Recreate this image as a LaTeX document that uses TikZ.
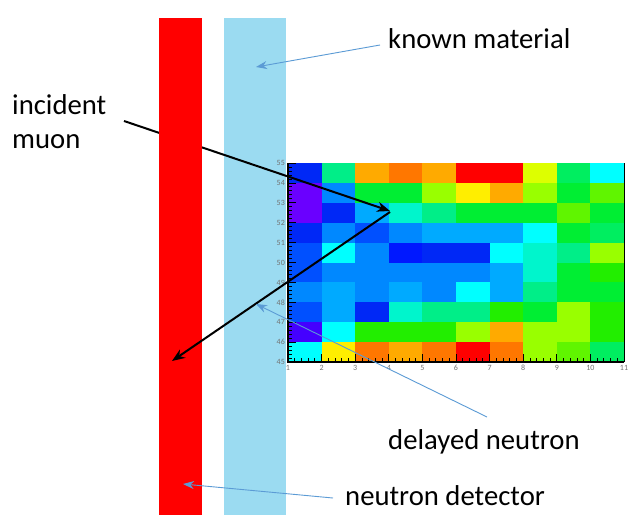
\documentclass[tikz,border=0pt]{standalone}
\usepackage{fontspec}
\setmainfont{Carlito}
\usetikzlibrary{arrows.meta}
\definecolor{barred}{RGB}{255,0,0}
\definecolor{barblue}{RGB}{155,219,241}
\definecolor{ptr}{RGB}{91,155,213}
\definecolor{bl}{HTML}{0028F6}
\definecolor{bl2}{HTML}{0050FF}
\definecolor{bl3}{HTML}{0018FF}
\definecolor{db}{HTML}{0088FF}
\definecolor{sb}{HTML}{00AAFF}
\definecolor{cy}{HTML}{00FFFF}
\definecolor{aq}{HTML}{00F5CC}
\definecolor{sg}{HTML}{00EE88}
\definecolor{gm}{HTML}{00EE60}
\definecolor{gr}{HTML}{00EE33}
\definecolor{gg}{HTML}{22EE00}
\definecolor{ch}{HTML}{60F500}
\definecolor{li}{HTML}{99FF00}
\definecolor{ye}{HTML}{FFEE00}
\definecolor{ylg}{HTML}{DDFF00}
\definecolor{or}{HTML}{FFAA00}
\definecolor{do}{HTML}{FF7700}
\definecolor{rd}{HTML}{FF0000}
\definecolor{pu}{HTML}{6A00FF}
\definecolor{pu2}{HTML}{4400FF}
\tikzset{
  lbl/.style={font=\fontsize{28.7}{34}\selectfont, inner sep=0pt, text=black},
  muonarrow/.style={draw=black, line width=2pt, -{Stealth[length=13pt,width=10pt]}},
  pointer/.style={draw=ptr, line width=0.9pt, -{Stealth[length=11pt,width=8pt]}},
  axlbl/.style={font=\fontsize{8}{9}\selectfont, text=black!55, inner sep=0pt},
  bar/.style={draw=none, inner sep=0pt, minimum width=#1, minimum height=497pt, anchor=north west}
}
\begin{document}
\begin{tikzpicture}[x=1pt,y=-1pt]
\useasboundingbox (0,0) rectangle (639,525);
\fill[white] (0,0) rectangle (639,525);
% light blue bar (known material)
\node[bar=62pt, fill=barblue] (bluebar) at (224,18) {};
% heatmap
\def\xo{288}\def\yo{163}\def\cw{33.6}\def\ch{19.9}
\foreach \row [count=\r from 0] in {
 {bl,sg,or,do,or,rd,rd,ylg,gm,cy},
 {pu,db,gr,gr,li,ye,or,li,gr,ch},
 {pu,bl,sb,aq,sg,gr,gr,gr,ch,gr},
 {bl,db,bl2,db,sb,sb,sb,cy,gr,gm},
 {bl2,cy,db,bl3,bl,bl,cy,aq,sg,li},
 {bl2,db,db,db,db,db,sb,aq,gr,gg},
 {db,sb,db,sb,db,cy,sb,sg,gr,gr},
 {bl2,sb,bl,aq,sg,sg,gg,gr,li,gg},
 {pu2,cy,gg,gg,gg,li,or,li,li,gg},
 {cy,ye,do,or,do,rd,do,li,ch,gm}} {
  \foreach \c [count=\k from 0] in \row {
    \fill[\c] ({\xo+\k*\cw},{\yo+\r*\ch}) rectangle ++(\cw+0.3,\ch+0.3);
  }
}
\coordinate (hmtl) at (\xo,\yo);
\coordinate (hmbl) at (\xo,{\yo+10*\ch});
\coordinate (hmbr) at ({\xo+10*\cw},{\yo+10*\ch});
\coordinate (hmtr) at ({\xo+10*\cw},\yo);
% ticks
\foreach \i in {0,...,50} {
  \pgfmathsetmacro{\len}{ifthenelse(mod(\i,5)==0,8,4)}
  \draw[black, line width=0.8pt] (\xo,{\yo+\i*\ch/5}) -- ++(\len,0);
  \draw[black, line width=0.8pt] ({\xo+\i*\cw/5},{\yo+10*\ch}) -- ++(0,-\len);
}
\draw[black, line width=1.6pt] (hmtl) -- (hmbl) -- (hmbr);
\draw[black, line width=0.8pt] (hmbr) -- (hmtr);
\foreach \v [count=\i from 0] in {55,54,53,52,51,50,49,48,47,46,45} {
  \node[axlbl, anchor=east] (yl\i) at ({\xo-3},{\yo+\i*\ch}) {\v};
}
\foreach \i in {1,...,11} {
  \node[axlbl, anchor=north] (xl\i) at ({\xo+(\i-1)*\cw},{\yo+10*\ch+3}) {\i};
}
% incident muon arrow (passes behind the detector)
\coordinate (muonstart) at (124,121);
\coordinate (hit) at (390,211);
\coordinate (back) at (172,361);
\draw[muonarrow] (muonstart) -- (hit);
% red bar (neutron detector)
\node[bar=43pt, fill=barred] (redbar) at (159,18) {};
\draw[muonarrow] ([shift={(0,1)}]hit) -- (back);
% labels
\node[lbl, anchor=base west] (known) at (388,48) {known material};
\node[lbl, anchor=base west] (inc1) at (12,114) {incident};
\node[lbl, anchor=base west] (inc2) at (12,148) {muon};
\node[lbl, anchor=base west] (delayed) at (388,449) {delayed neutron};
\node[lbl, anchor=base west] (detector) at (345,505) {neutron detector};
% pointers
\coordinate (kmstart) at (380,45);
\coordinate (kmtip) at (256,67);
\coordinate (dnstart) at (487,417);
\coordinate (dntip) at (256,304);
\coordinate (ndstart) at (333,498);
\coordinate (ndtip) at (183,484);
\draw[pointer] (kmstart) -- (kmtip);
\draw[pointer] (dnstart) -- (dntip);
\draw[pointer] (ndstart) -- (ndtip);
\end{tikzpicture}
\end{document}
